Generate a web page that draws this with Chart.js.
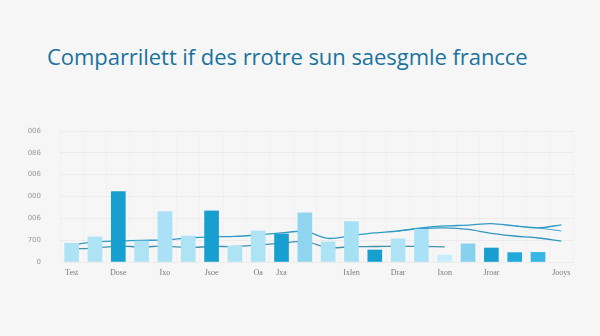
<!DOCTYPE html>
<html>
<head>
<meta charset="utf-8">
<script src="https://cdn.jsdelivr.net/npm/chart.js@4.4.1/dist/chart.umd.min.js"></script>
<style>
  html, body { margin: 0; padding: 0; background: #f6f6f6; width: 600px; height: 336px; overflow: hidden; }
  #title { position: absolute; left: 47px; top: 41px; margin: 0; font-family: "Open Sans", "Noto Sans", sans-serif; font-weight: 400; font-size: 22px; color: #1a739e; white-space: nowrap; letter-spacing: -0.05px; }
  #wrap { position: absolute; left: 0; top: 0; width: 600px; height: 336px; }
</style>
</head>
<body>
<h1 id="title">Comparrilett if des rrotre sun saesgmle francce</h1>
<div id="wrap"><canvas id="c" width="600" height="336"></canvas></div>
<script>
const categories = ["Test","","Dose","","Ixo","","Jsoe","","Oa","Jxa","","","Ixlen","","Drar","","Ixon","","Jroar","","","Jooys"];
const barValues = [86,115,322,96,231,119,234,73,142,128,225,92,185,55,106,150,32,83,64,43,44,null];
const barColors = ["#aee3f6","#aee3f6","#17a0cf","#aee3f6","#aae1f6","#aee3f6","#17a0cf","#aee3f6","#aee3f6","#17a0cf","#8fd5ef","#aee3f6","#a5e0f5","#17a0cf","#aee3f6","#a9e2f6","#c6eefa","#86d2ee","#169fcf","#22a9db","#39b6e5","#aee3f6"];
const lineUpper = [78,92,96,99,101,110,115,117,124,133,140,108,121,133,142,156,165,169,176,165,156,170];
const lineLower = [60,64,73,69,73,66,71,71,78,86,94,66,70,71,73,71,69,null,null,null,null,null];
const lineMiddle = [null,null,null,null,null,null,null,null,null,null,null,null,null,null,142,153,156,149,131,119,110,96];
const lineBranch = [null,null,null,null,null,null,null,null,null,null,null,null,null,null,null,null,null,null,null,165,156,142];
const yTickLabels = ["0","700","006","000","006","086","006"];

new Chart(document.getElementById("c"), {
  data: {
    labels: categories,
    datasets: [
      { type: "bar", data: barValues, backgroundColor: barColors, barThickness: 14, order: 1 },
      { type: "line", data: lineUpper, borderColor: "#2e9cc6", borderWidth: 1.3, pointRadius: 0, tension: 0.3, fill: false, order: 2 },
      { type: "line", data: lineLower, borderColor: "#3f93ac", borderWidth: 1.3, pointRadius: 0, tension: 0.3, fill: false, order: 2 },
      { type: "line", data: lineMiddle, borderColor: "#3197c0", borderWidth: 1.3, pointRadius: 0, tension: 0.3, fill: false, order: 2 },
      { type: "line", data: lineBranch, borderColor: "#4aa6cc", borderWidth: 1.1, pointRadius: 0, tension: 0.3, fill: false, order: 2 }
    ]
  },
  options: {
    responsive: false,
    animation: false,
    layout: { padding: { top: 131, right: 27, left: 0, bottom: 0 } },
    plugins: { legend: { display: false }, tooltip: { enabled: false }, title: { display: false } },
    scales: {
      x: {
        offset: true,
        grid: { display: true, color: "rgba(0,0,0,0.018)", drawTicks: false },
        border: { display: false },
        ticks: { autoSkip: false, maxRotation: 0, padding: 6, color: "#7a7a7a", font: { family: "Liberation Serif", size: 8 } },
        afterFit: s => { s.height = 74; }
      },
      y: {
        min: 0, max: 600,
        grid: { color: "rgba(0,0,0,0.04)", drawTicks: false },
        border: { display: false },
        ticks: { stepSize: 100, padding: 19, color: "#9a9a9a", font: { family: "DejaVu Sans", size: 7 },
          callback: (v, i) => yTickLabels[i] },
        afterFit: s => { s.width = 60; }
      }
    }
  }
});
</script>
</body>
</html>
